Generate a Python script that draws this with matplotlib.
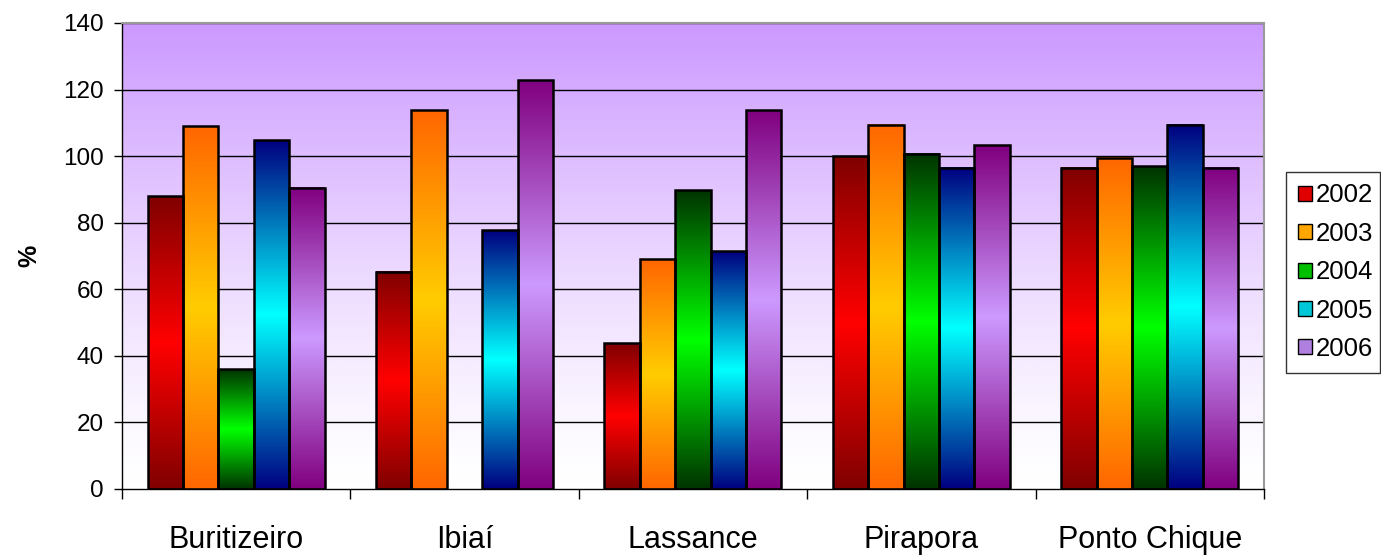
import numpy as np
import matplotlib
matplotlib.use("Agg")
from matplotlib import pyplot as plt
from matplotlib.colors import LinearSegmentedColormap
from matplotlib.patches import Rectangle, Patch

plt.rcParams["font.family"] = ["Liberation Sans", "DejaVu Sans"]

cities = ["Buritizeiro", "Ibiaí", "Lassance", "Pirapora", "Ponto Chique"]
years = ["2002", "2003", "2004", "2005", "2006"]

v2002 = [88, 65.3, 43.8, 100, 96.5]
v2003 = [109, 113.8, 69, 109.5, 99.5]
v2004 = [36, np.nan, 89.8, 100.7, 97]
v2005 = [104.8, 77.8, 71.4, 96.5, 109.5]
v2006 = [90.5, 122.8, 113.8, 103.2, 96.5]
series = [v2002, v2003, v2004, v2005, v2006]

# (edge colour, centre colour) of the vertical gradient in each bar
shades = [("#800000", "#FF0000"),
          ("#FF6600", "#FFCC00"),
          ("#003300", "#00FF00"),
          ("#000080", "#00FFFF"),
          ("#800080", "#CC99FF")]
legend_fill = ["#E00000", "#FFA500", "#00C000", "#00C8D8", "#B080E0"]

fig = plt.figure(figsize=(13.81, 5.58), dpi=100)
ax = fig.add_axes([0.0883, 0.1237, 0.8269, 0.8351])

x = np.arange(len(cities))
bw = 0.155

# plot area background: lavender at the top fading to white
bg = LinearSegmentedColormap.from_list("bg", ["#FFFFFF", "#CC99FF"])
grad = np.linspace(0, 1, 256).reshape(-1, 1) ** 1.3
ax.imshow(grad, cmap=bg, aspect="auto", origin="lower",
          extent=[-0.5, 4.5, 0, 140], zorder=0)

for yv in range(20, 141, 20):
    ax.axhline(yv, color="black", lw=1, zorder=1)

ramp = np.abs(np.linspace(-1, 1, 256)).reshape(-1, 1)
for i, vals in enumerate(series):
    cm = LinearSegmentedColormap.from_list("c%d" % i, [shades[i][1], shades[i][0]])
    for j, v in enumerate(vals):
        if np.isnan(v):
            continue
        x0 = x[j] - 2.5 * bw + i * bw
        ax.imshow(ramp, cmap=cm, aspect="auto", origin="lower",
                  extent=[x0, x0 + bw, 0, v], zorder=2, interpolation="bilinear")
        ax.add_patch(Rectangle((x0, 0), bw, v, fill=False,
                               edgecolor="black", lw=1.8, zorder=3))

ax.set_xlim(-0.5, 4.5)
ax.set_ylim(0, 140)
ax.set_yticks(range(0, 141, 20))
ax.set_xticks(x)
ax.set_xticklabels(cities, fontsize=22)
ax.set_xticks(np.arange(-0.5, 4.6, 1), minor=True)
ax.tick_params(axis="x", which="major", length=0, pad=26)
ax.tick_params(axis="x", which="minor", length=7, width=1, color="black")
ax.tick_params(axis="y", labelsize=17.5, length=6, width=1, pad=7)
ax.set_ylabel("%", fontsize=18, fontweight="bold")
ax.yaxis.set_label_coords(-0.0705, 0.5)

for s in ["top", "right"]:
    ax.spines[s].set_color("#999999")
    ax.spines[s].set_linewidth(1.5)
ax.spines["left"].set_linewidth(1)
ax.spines["bottom"].set_linewidth(1)

handles = [Patch(facecolor=c, edgecolor="black", lw=1) for c in legend_fill]
leg = fig.legend(handles, years, loc="upper left", mode="expand",
                 bbox_to_anchor=(0.9312, 0.296, 0.0681, 0.396), fontsize=18.5,
                 frameon=True, fancybox=False, edgecolor="black",
                 handlelength=0.56, handleheight=0.52, handletextpad=0.15,
                 labelspacing=0.56, borderpad=0.45, borderaxespad=0)
leg.get_frame().set_linewidth(1)

fig.savefig("out.png", dpi=100)
